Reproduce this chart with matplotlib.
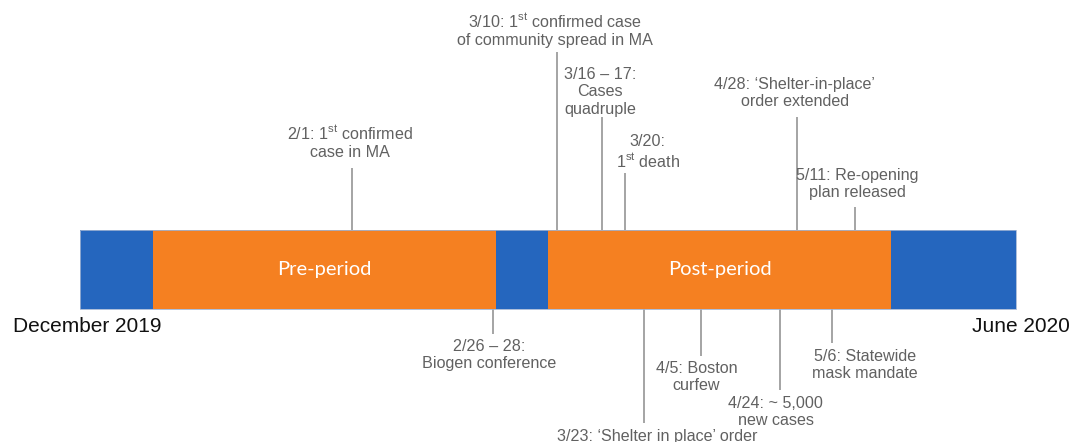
import matplotlib
matplotlib.use("Agg")
import matplotlib.pyplot as plt

# timeline in days from Dec 1 2019 (as drawn)
seg_edges = [0, 16.6, 94.7, 106.5, 184.5, 213]
seg_kind = ["blue", "orange", "blue", "orange", "blue"]
period_labels = {1: "Pre-period", 3: "Post-period"}

start_label = "December 2019"
end_label = "June 2020"

# events above the bar: label, position on timeline
above_labels = [
    "2/1: 1$^{\\rm st}$ confirmed\ncase in MA",
    "3/10: 1$^{\\rm st}$ confirmed case\nof community spread in MA",
    "3/16 \u2013 17:\nCases\nquadruple",
    "3/20:\n1$^{\\rm st}$ death",
    "4/28: \u2018Shelter-in-place\u2019\norder extended",
    "5/11: Re-opening\nplan released",
]
above_pos = [61.9, 108.6, 118.8, 124.0, 163.1, 176.3]

below_labels = [
    "2/26 \u2013 28:\nBiogen conference",
    "3/23: \u2018Shelter in place\u2019 order",
    "4/5: Boston\ncurfew",
    "4/24: ~ 5,000\nnew cases",
    "5/6: Statewide\nmask mandate",
]
below_pos = [93.9, 128.3, 141.3, 159.3, 171.1]

# layout (pixel rows) for stems and labels
above_stem_top = [168, 52, 117, 173, 117, 207]
above_text_y = [142, 30, 92, 152, 93, 184]
above_text_dx = [-0.5, -0.5, -0.5, 5.2, -0.5, 0.5]
below_stem_bot = [334, 423, 356, 390, 343]
below_text_y = [355, 437, 377, 412, 365]
below_text_dx = [-0.7, 3.0, -1.0, -1.0, 7.5]

colors = {"blue": "#2566BE", "orange": "#F58021"}
bar_top, bar_bot = 230, 309
px_per_day = 4.395
x0_px = 80

plt.rcParams["font.family"] = ["Liberation Sans", "DejaVu Sans"]
plt.rcParams["mathtext.fontset"] = "custom"
plt.rcParams["mathtext.rm"] = "Liberation Sans"
plt.rcParams["mathtext.it"] = "Liberation Sans"

fig = plt.figure(figsize=(10.7, 4.42), dpi=100)
ax = fig.add_axes([0, 0, 1, 1])
ax.set_xlim(-x0_px / px_per_day, (1070 - x0_px) / px_per_day)
ax.set_ylim(442, 0)
ax.axis("off")

# bar segments
for i, kind in enumerate(seg_kind):
    ax.bar(seg_edges[i], bar_bot - bar_top, width=seg_edges[i + 1] - seg_edges[i],
           bottom=bar_top, align="edge", color=colors[kind], edgecolor="none", zorder=2)
ax.bar(seg_edges[0], bar_bot - bar_top, width=seg_edges[-1] - seg_edges[0], bottom=bar_top,
       align="edge", color="none", edgecolor="#9fb3d3", linewidth=0.6, zorder=3)

for i, lab in period_labels.items():
    ax.text((seg_edges[i] + seg_edges[i + 1]) / 2, (bar_top + bar_bot) / 2, lab,
            ha="center", va="center", color="white", fontsize=14.5,
            family=["Lato", "DejaVu Sans"], zorder=4)

text_kw = dict(ha="center", va="center", color="#616161", fontsize=11.6, linespacing=1.2)
stem_kw = dict(color="#8c8c8c", linewidth=1.1, zorder=1)

for lab, pos, top, ty, dx in zip(above_labels, above_pos, above_stem_top, above_text_y, above_text_dx):
    ax.vlines(pos, top, bar_top, **stem_kw)
    ax.text(pos + dx, ty, lab, **text_kw)

for lab, pos, bot, ty, dx in zip(below_labels, below_pos, below_stem_bot, below_text_y, below_text_dx):
    ax.vlines(pos, bar_bot, bot, **stem_kw)
    ax.text(pos + dx, ty, lab, **text_kw)

ax.text(seg_edges[0] + 1.6, 326, start_label, ha="center", va="center", fontsize=15, color="#111111")
ax.text(seg_edges[-1] + 1.0, 326, end_label, ha="center", va="center", fontsize=15, color="#111111")

fig.savefig("out.png", dpi=100)
